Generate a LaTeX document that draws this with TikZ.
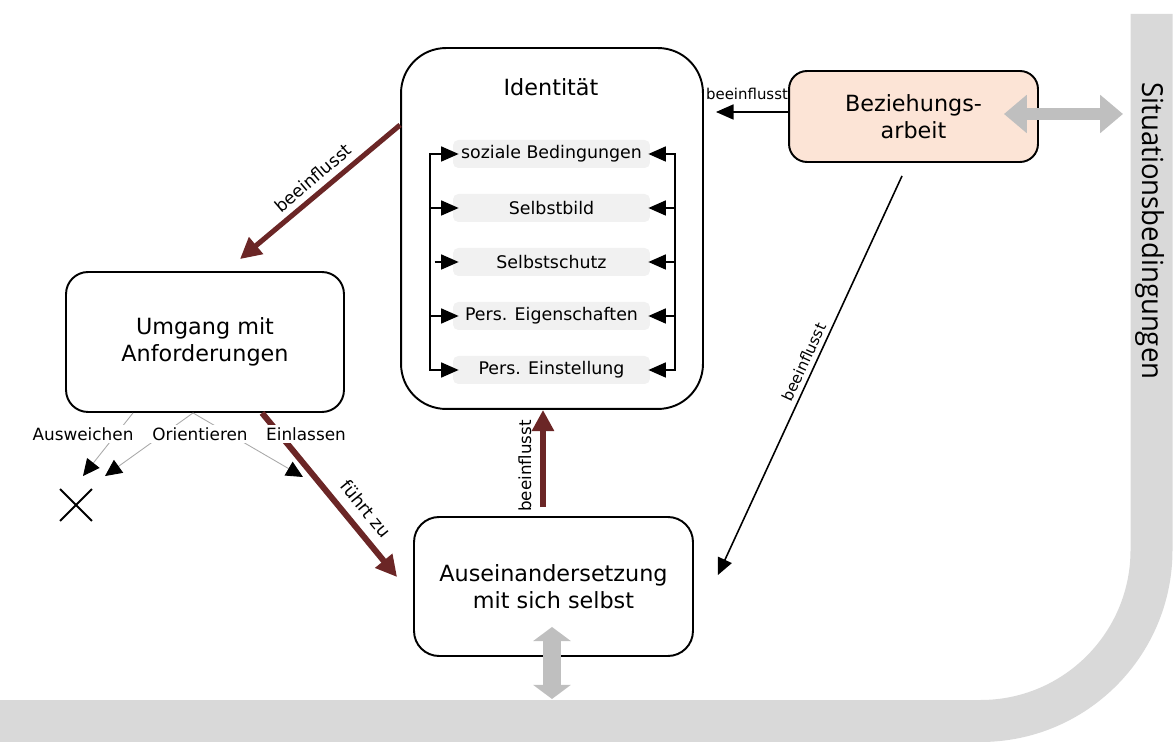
\documentclass[tikz,border=0pt]{standalone}
\usepackage{fontspec}
\setmainfont{DejaVu Sans}
\newfontfamily\bandfont{Open Sans}
\usetikzlibrary{arrows.meta,calc,shapes.misc}

\definecolor{maroon}{HTML}{6B2626}
\definecolor{peach}{HTML}{FCE4D6}
\definecolor{bandgray}{HTML}{D9D9D9}
\definecolor{arrowgray}{HTML}{BFBFBF}
\definecolor{itemgray}{HTML}{F1F1F1}
\definecolor{branchgray}{HTML}{AAAAAA}

\begin{document}
\begin{tikzpicture}[x=0.02cm,y=-0.02cm,
  every node/.style={inner sep=0pt},
  roundbox/.style={draw=black,line width=1.1pt,align=center,
    font=\fontsize{12.7}{15.5}\selectfont},
  itembox/.style={fill=itemgray,rounded corners=3pt,minimum width=3.94cm,
    minimum height=0.56cm,font=\fontsize{9.9}{12}\selectfont},
  linkline/.style={draw=black,line width=1.1pt},
  linkarrow/.style={draw=black,line width=1.1pt,-{Triangle[length=10pt,width=8.5pt]}},
  thinarrow/.style={draw=black,line width=0.9pt,-{Triangle[length=9.5pt,width=8.5pt]}},
  strongarrow/.style={draw=maroon,line width=#1,-{Triangle[length=12pt,width=12pt]}},
  branch/.style={draw=branchgray,line width=0.5pt,
    -{Triangle[length=9.5pt,width=9pt,color=black,fill=black]}},
  branchlabel/.style={fill=white,inner sep=1.5pt,font=\fontsize{9.6}{11}\selectfont},
  edgelabel/.style={font=\fontsize{#1}{11}\selectfont},
]
\useasboundingbox (0,0) rectangle (1173,742);
\clip (0,0) rectangle (1173,742);

% surrounding band of situational conditions
\draw[draw=bandgray,line width=0.84cm,rounded corners=3.42cm]
  (1151.5,14) -- (1151.5,721) -- (-30,721);
\node[rotate=-90,font=\bandfont\fontsize{16.5}{18}\selectfont] (sit) at (1150,231)
  {\scalebox{0.95}[1]{Situationsbedingungen}};
\coordinate (bandleft) at (1123,114);
\coordinate (bandtop) at (552,699);

% boxes
\node[roundbox,rounded corners=0.9cm,minimum width=6.04cm,minimum height=7.22cm]
  (ident) at (552,228.5) {};
\node[font=\fontsize{12.7}{15.5}\selectfont] (identtitle) at (551,87) {Identität};
\node[roundbox,rounded corners=0.44cm,minimum width=5.56cm,minimum height=2.8cm]
  (umg) at (205,342) {Umgang mit\\Anforderungen};
\node[roundbox,rounded corners=0.5cm,minimum width=5.58cm,minimum height=2.78cm]
  (ausein) at (553.5,586.5) {Auseinandersetzung\\mit sich selbst};
\node[roundbox,fill=peach,rounded corners=0.36cm,minimum width=4.98cm,minimum height=1.82cm]
  (bez) at (913.5,116.5) {Beziehungs-\\arbeit};

% components of identity
\node[itembox] (soz) at (551.5,154) {soziale Bedingungen};
\node[itembox] (sbild) at (551.5,208) {Selbstbild};
\node[itembox] (sschutz) at (551.5,262) {Selbstschutz};
\node[itembox] (peig) at (551.5,316) {Pers. Eigenschaften};
\node[itembox] (pein) at (551.5,370) {Pers. Einstellung};

\draw[linkline,line cap=rect] ($(soz.west)+(-23,0)$) -- ($(pein.west)+(-23,0)$);
\draw[linkline,line cap=rect] ($(soz.east)+(25,0)$) -- ($(pein.east)+(25,0)$);
\foreach \n in {soz,sbild,peig,pein}
  \draw[linkarrow] ($(\n.west)+(-23,0)$) -- ($(\n.west)+(6,0)$);
\draw[linkarrow] ($(sschutz.west)+(-18,0)$) -- ($(sschutz.west)+(6,0)$);
\foreach \n in {soz,sbild,sschutz,peig,pein}
  \draw[linkarrow] ($(\n.east)+(25,0)$) -- ($(\n.east)+(-2,0)$);

% influences
\draw[strongarrow=2.9pt] ($(ident.west)+(0,-103.5)$) -- ($(umg.north)+(35,-12)$);
\node[edgelabel=9.8,rotate=40.5] (lblA) at (313,178) {beeinflusst};

\draw[strongarrow=3.4pt] ($(umg.south)+(57,0)$) -- ($(ausein.west)+(-16,-9.5)$);
\node[edgelabel=10,rotate=-50.5] (lblB) at (366,509) {führt zu};

\draw[strongarrow=3.2pt] ($(ausein.north)+(-10.5,-9)$) -- ($(ident.south)+(-9,0)$);
\node[edgelabel=9.5,rotate=90] (lblC) at (525,466) {beeinflusst};

\draw[linkarrow] ($(bez.west)+(0,-4.5)$) coordinate (bzs) -- ($(ident.east |- bzs)+(12,0)$);
\node[edgelabel=8.5] (lblD) at (747,94) {beeinflusst};

\draw[thinarrow] ($(bez.south)+(-11.5,13)$) -- ($(ausein.east)+(24,-11.5)$);
\node[edgelabel=8.7,rotate=65.2] (lblE) at (804,362) {beeinflusst};

% exchange with the situational conditions
\draw[draw=arrowgray,line width=6.8pt,
  {Triangle[length=13pt,width=21pt]}-{Triangle[length=13pt,width=21pt]}]
  ($(bez.east)+(-35,-2.5)$) -- (bandleft);
\draw[draw=arrowgray,line width=10.8pt,
  {Triangle[length=8pt,width=21pt]}-{Triangle[length=8pt,width=21pt]}]
  ($(ausein.south)+(-1.5,-30)$) -- (bandtop);

% ways of dealing with demands
\node[cross out,draw=black,line width=1.1pt,minimum size=0.6cm] (xmark) at (76,505) {};
\coordinate (einl) at (303,477);
\draw[branch] ($(umg.south)+(-72,0)$) -- ($(xmark.north)+(7,-13)$);
\draw[branch] ($(umg.south)+(-12,0)$) -- ($(xmark.north)+(29,-13)$);
\draw[branch] ($(umg.south)+(-12,0)$) -- (einl);
\node[branchlabel] (ausw) at (83,434) {Ausweichen};
\node[branchlabel] (orient) at (200,434) {Orientieren};
\node[branchlabel] (einlab) at (306,434) {Einlassen};
\end{tikzpicture}
\end{document}
